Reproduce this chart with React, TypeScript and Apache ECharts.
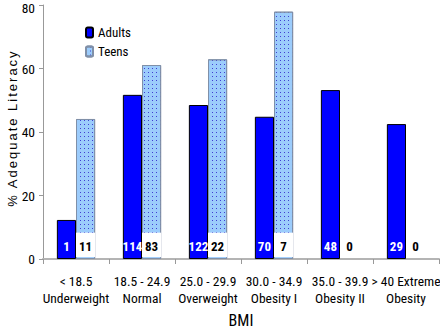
import React, { useEffect, useRef } from "react";
import * as echarts from "echarts";

const categories = [
  "< 18.5\nUnderweight",
  "18.5 - 24.9\nNormal",
  "25.0 - 29.9\nOverweight",
  "30.0 - 34.9\nObesity I",
  "35.0 - 39.9\nObesity II",
  "> 40 Extreme\nObesity",
];
const adults = [12.3, 51.7, 48.5, 44.8, 53.2, 42.5];
const teens = [44.1, 61.1, 62.9, 77.9, 0, 0];
const adultCounts = [1, 114, 122, 70, 48, 29];
const teenCounts = [11, 83, 22, 7, 0, 0];
const yTicks = [0, 20, 40, 60, 80];

const NARROW = "Roboto, 'Liberation Sans', Arial, sans-serif";
const Y_NAME = "% Adequate Literacy";
const BOX_BASE = 0.6;
const BOX_HEIGHT = 7.7;

export default function App() {
  const ref = useRef<HTMLDivElement>(null);
  useEffect(() => {
    if (!ref.current) return;
    const chart = echarts.init(ref.current, undefined, { renderer: "svg" });
    const yMax = yTicks[yTicks.length - 1];
    const option: any = {
      animation: false,
      backgroundColor: "#ffffff",
      grid: {
        left: 43,
        right: 1,
        top: 5,
        bottom: 70,
        containLabel: false,
        outerBoundsMode: "none",
      },
      legend: {
        orient: "vertical",
        left: 85,
        top: 26,
        padding: 0,
        itemWidth: 7,
        itemHeight: 10,
        itemGap: 6,
        data: ["Adults", "Teens"],
        textStyle: { fontFamily: NARROW, fontSize: 13, color: "#000" },
      },
      xAxis: [
        {
          type: "category",
          data: categories,
          name: "BMI",
          nameLocation: "middle",
          nameGap: 53,
          nameTextStyle: { fontFamily: NARROW, fontSize: 16, lineHeight: 16, color: "#000" },
          axisLine: { lineStyle: { color: "#b4b4b4", width: 2 } },
          axisTick: { show: true, length: 5, lineStyle: { color: "#999", width: 1 } },
          axisLabel: {
            fontFamily: NARROW,
            fontSize: 13.5,
            lineHeight: 16.5,
            color: "#000",
            margin: 14,
            interval: 0,
          },
        },
        {
          type: "category",
          data: categories,
          show: false,
        },
      ],
      yAxis: {
        type: "value",
        min: yTicks[0],
        max: yMax,
        interval: 20,
        splitLine: { show: false },
        axisLine: { show: true, lineStyle: { color: "#999", width: 1 } },
        axisTick: { show: true, length: 4, lineStyle: { color: "#999" } },
        axisLabel: {
          fontFamily: NARROW,
          fontSize: 13.5,
          lineHeight: 10,
          color: "#000",
          margin: 8,
          formatter: (v: number) => (v === yMax ? "{t|" + v + "}" : String(v)),
          rich: {
            t: { fontFamily: NARROW, fontSize: 13.5, lineHeight: 10, color: "#000", padding: [5, 0, 0, 0] },
          },
        },
      },
      graphic: [
        {
          type: "text",
          x: 12,
          y: 128,
          rotation: Math.PI / 2,
          style: {
            text: Y_NAME,
            fontFamily: "'Liberation Sans', Arial, sans-serif",
            fontSize: 13,
            fill: "#000",
            textAlign: "center",
            textVerticalAlign: "middle",
          },
        },
      ],
      series: [
        {
          name: "Adults",
          type: "bar",
          xAxisIndex: 0,
          barGap: "0%",
          barCategoryGap: "42%",
          data: adults,
          itemStyle: { color: "#0000ff", borderColor: "#000", borderWidth: 1 },
          label: {
            show: true,
            position: "insideBottom",
            distance: 6,
            formatter: (p: any) => String(adultCounts[p.dataIndex]),
            color: "#fff",
            fontFamily: NARROW,
            fontWeight: "bold",
            fontSize: 13,
          },
          z: 3,
        },
        {
          name: "Teens",
          type: "bar",
          xAxisIndex: 0,
          barGap: "0%",
          barCategoryGap: "42%",
          data: teens.map((v) => ({
            value: v,
            itemStyle: v === 0 ? { borderWidth: 0 } : {},
          })),
          itemStyle: {
            color: "#9cccfc",
            borderColor: "#8090a8",
            borderWidth: 1,
            decal: {
              symbol: "rect",
              symbolSize: 1,
              color: "#4040d0",
              dashArrayX: [1, 3],
              dashArrayY: [1, 3],
              rotation: 0,
            },
          },
          z: 3,
        },
        {
          name: "ghost",
          type: "bar",
          xAxisIndex: 1,
          barGap: "0%",
          barCategoryGap: "42%",
          data: categories.map(() => "-"),
          silent: true,
        },
        {
          name: "boxBase",
          type: "bar",
          xAxisIndex: 1,
          stack: "box",
          barGap: "0%",
          barCategoryGap: "42%",
          data: teens.map(() => BOX_BASE),
          itemStyle: { color: "rgba(0,0,0,0)" },
          silent: true,
          z: 4,
        },
        {
          name: "box",
          type: "bar",
          xAxisIndex: 1,
          stack: "box",
          barGap: "0%",
          barCategoryGap: "42%",
          data: teens.map(() => ({
            value: BOX_HEIGHT,
            itemStyle: { color: "#ffffff", borderWidth: 0 },
          })),
          label: {
            show: true,
            position: "insideBottom",
            distance: 4,
            formatter: (p: any) => String(teenCounts[p.dataIndex]),
            color: "#000",
            fontFamily: NARROW,
            fontWeight: "bold",
            fontSize: 13,
          },
          silent: true,
          z: 4,
        },
      ],
    };
    chart.setOption(option);
    const fix = () => {
      ref.current?.querySelectorAll("text").forEach((t: any) => {
        if (t.textContent === Y_NAME) {
          t.style.letterSpacing = "2px";
        } else {
          t.style.fontStretch = "75%";
          t.style.fontVariationSettings = "'wdth' 75";
        }
      });
    };
    fix();
    chart.on("finished", fix);
    return () => chart.dispose();
  }, []);
  return <div ref={ref} style={{ width: 440, height: 329, position: "absolute", left: 0, top: 0 }} />;
}
